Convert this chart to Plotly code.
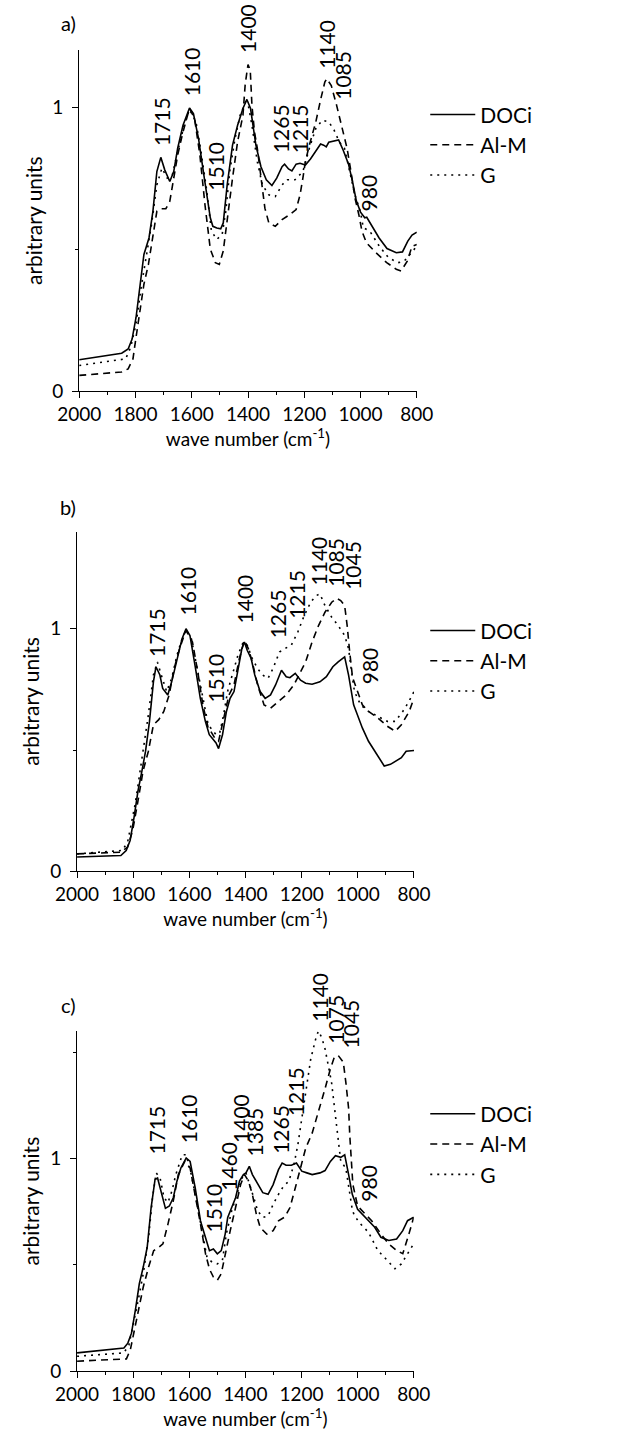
import plotly.graph_objects as go

# ---------------- data (wave number, arbitrary units) ----------------
# panel a
a_doci_wn = [2000, 1849, 1826, 1812, 1798, 1784, 1770, 1752, 1738, 1724, 1710, 1696, 1678, 1664, 1650, 1631, 1608, 1594, 1576, 1557, 1548, 1534, 1525, 1511, 1497, 1488, 1474, 1455, 1437, 1418, 1404, 1391, 1372, 1354, 1335, 1315, 1298, 1279, 1270, 1256, 1244, 1229, 1215, 1196, 1178, 1159, 1142, 1131, 1122, 1113, 1094, 1078, 1062, 1043, 1029, 1015, 1000, 985, 978, 965, 934, 906, 873, 851, 832, 817, 800]
a_doci = [0.110, 0.133, 0.148, 0.183, 0.259, 0.376, 0.481, 0.539, 0.633, 0.773, 0.823, 0.779, 0.738, 0.773, 0.855, 0.936, 0.997, 0.977, 0.89, 0.761, 0.70, 0.61, 0.58, 0.574, 0.571, 0.592, 0.726, 0.866, 0.936, 0.995, 1.027, 0.995, 0.866, 0.79, 0.744, 0.724, 0.75, 0.79, 0.799, 0.782, 0.775, 0.799, 0.802, 0.796, 0.817, 0.843, 0.87, 0.866, 0.86, 0.876, 0.880, 0.884, 0.849, 0.80, 0.74, 0.67, 0.63, 0.61, 0.612, 0.59, 0.539, 0.502, 0.487, 0.49, 0.528, 0.549, 0.559]

a_alm_wn = [2000, 1849, 1826, 1809, 1798, 1784, 1770, 1754, 1738, 1724, 1710, 1692, 1678, 1667, 1650, 1631, 1608, 1590, 1571, 1553, 1534, 1516, 1502, 1488, 1474, 1455, 1437, 1418, 1410, 1400, 1392, 1386, 1377, 1367, 1358, 1349, 1340, 1326, 1303, 1279, 1252, 1229, 1215, 1205, 1196, 1182, 1159, 1141, 1127, 1120, 1104, 1085, 1067, 1048, 1034, 1020, 1006, 995, 979, 945, 907, 873, 856, 834, 817, 800]
a_alm = [0.055, 0.067, 0.078, 0.113, 0.189, 0.283, 0.376, 0.446, 0.539, 0.633, 0.642, 0.642, 0.668, 0.738, 0.831, 0.913, 0.995, 0.96, 0.831, 0.656, 0.50, 0.452, 0.446, 0.493, 0.609, 0.75, 0.878, 0.971, 1.08, 1.15, 1.13, 1.006, 0.913, 0.855, 0.785, 0.715, 0.644, 0.592, 0.580, 0.604, 0.621, 0.639, 0.691, 0.75, 0.808, 0.866, 0.948, 1.03, 1.088, 1.10, 1.076, 1.006, 0.936, 0.855, 0.773, 0.68, 0.621, 0.563, 0.522, 0.487, 0.452, 0.429, 0.423, 0.457, 0.51, 0.516]

a_g_wn = [2000, 1835, 1817, 1798, 1780, 1761, 1743, 1724, 1706, 1687, 1669, 1650, 1627, 1608, 1585, 1567, 1548, 1530, 1511, 1492, 1479, 1465, 1446, 1428, 1409, 1400, 1386, 1367, 1349, 1326, 1303, 1279, 1261, 1233, 1205, 1182, 1159, 1136, 1113, 1094, 1076, 1057, 1039, 1020, 1001, 990, 967, 934, 901, 867, 845, 823, 800]
a_g = [0.09, 0.113, 0.154, 0.236, 0.364, 0.481, 0.586, 0.726, 0.785, 0.75, 0.761, 0.843, 0.936, 0.992, 0.948, 0.843, 0.715, 0.563, 0.534, 0.551, 0.633, 0.773, 0.89, 0.971, 1.018, 1.012, 0.936, 0.808, 0.726, 0.691, 0.685, 0.726, 0.744, 0.744, 0.773, 0.855, 0.925, 0.954, 0.948, 0.919, 0.878, 0.855, 0.773, 0.691, 0.633, 0.575, 0.563, 0.511, 0.470, 0.452, 0.457, 0.481, 0.51]

# panel b
b_doci_wn = [2000, 1844, 1825, 1811, 1797, 1783, 1769, 1756, 1742, 1728, 1719, 1705, 1695, 1677, 1663, 1644, 1626, 1612, 1598, 1580, 1561, 1543, 1529, 1515, 1505, 1496, 1482, 1468, 1455, 1441, 1427, 1413, 1404, 1394, 1380, 1367, 1348, 1330, 1311, 1293, 1272, 1255, 1242, 1223, 1204, 1186, 1163, 1135, 1112, 1089, 1070, 1047, 1033, 1015, 1006, 984, 962, 940, 906, 884, 862, 845, 828, 800]
b_doci = [0.059, 0.065, 0.086, 0.127, 0.222, 0.331, 0.413, 0.495, 0.618, 0.781, 0.843, 0.809, 0.754, 0.727, 0.781, 0.877, 0.959, 1.0, 0.972, 0.85, 0.713, 0.618, 0.563, 0.543, 0.529, 0.506, 0.563, 0.659, 0.713, 0.741, 0.836, 0.918, 0.945, 0.911, 0.877, 0.809, 0.741, 0.713, 0.727, 0.768, 0.829, 0.802, 0.798, 0.816, 0.788, 0.775, 0.771, 0.781, 0.802, 0.843, 0.863, 0.884, 0.809, 0.686, 0.659, 0.591, 0.536, 0.495, 0.434, 0.441, 0.455, 0.468, 0.495, 0.498]

b_alm_wn = [2000, 1844, 1820, 1802, 1783, 1765, 1746, 1728, 1709, 1691, 1672, 1654, 1635, 1612, 1589, 1570, 1552, 1533, 1524, 1510, 1496, 1478, 1459, 1441, 1422, 1404, 1390, 1376, 1357, 1334, 1311, 1283, 1255, 1228, 1209, 1186, 1163, 1140, 1117, 1093, 1075, 1061, 1047, 1038, 1029, 1019, 1001, 984, 962, 929, 895, 867, 845, 817, 800]
b_alm = [0.072, 0.079, 0.10, 0.168, 0.29, 0.413, 0.495, 0.604, 0.625, 0.659, 0.727, 0.836, 0.918, 0.993, 0.945, 0.822, 0.686, 0.591, 0.577, 0.55, 0.536, 0.631, 0.727, 0.768, 0.877, 0.952, 0.918, 0.863, 0.768, 0.686, 0.672, 0.70, 0.727, 0.768, 0.809, 0.863, 0.945, 1.013, 1.068, 1.109, 1.125, 1.116, 1.095, 1.013, 0.904, 0.80, 0.741, 0.686, 0.659, 0.632, 0.598, 0.577, 0.604, 0.659, 0.714]

b_g_wn = [2000, 1839, 1820, 1806, 1793, 1779, 1765, 1746, 1728, 1714, 1700, 1681, 1663, 1644, 1626, 1612, 1593, 1575, 1556, 1533, 1524, 1505, 1492, 1478, 1464, 1445, 1427, 1408, 1394, 1376, 1357, 1339, 1320, 1302, 1279, 1260, 1237, 1214, 1191, 1168, 1149, 1135, 1117, 1093, 1070, 1047, 1033, 1024, 1012, 990, 962, 929, 895, 867, 840, 818, 800]
b_g = [0.072, 0.086, 0.12, 0.195, 0.277, 0.386, 0.495, 0.645, 0.809, 0.863, 0.809, 0.741, 0.795, 0.891, 0.959, 0.993, 0.959, 0.85, 0.741, 0.604, 0.591, 0.563, 0.57, 0.645, 0.741, 0.822, 0.891, 0.945, 0.932, 0.877, 0.836, 0.809, 0.795, 0.836, 0.904, 0.918, 0.932, 0.986, 1.054, 1.109, 1.136, 1.143, 1.095, 1.047, 1.013, 0.972, 0.918, 0.836, 0.741, 0.686, 0.659, 0.639, 0.618, 0.618, 0.659, 0.700, 0.741]

# panel c
c_doci_wn = [2000, 1833, 1819, 1806, 1792, 1778, 1764, 1750, 1736, 1722, 1713, 1699, 1685, 1671, 1657, 1644, 1630, 1611, 1597, 1579, 1560, 1546, 1528, 1514, 1500, 1486, 1472, 1463, 1449, 1435, 1421, 1407, 1398, 1386, 1375, 1356, 1338, 1319, 1301, 1282, 1269, 1255, 1236, 1218, 1199, 1181, 1162, 1134, 1116, 1097, 1079, 1060, 1046, 1032, 1019, 1000, 972, 939, 917, 889, 861, 839, 822, 800]
c_doci = [0.086, 0.109, 0.132, 0.179, 0.288, 0.412, 0.49, 0.583, 0.77, 0.902, 0.909, 0.832, 0.766, 0.777, 0.816, 0.894, 0.956, 1.003, 0.987, 0.863, 0.707, 0.645, 0.567, 0.575, 0.552, 0.567, 0.645, 0.723, 0.77, 0.816, 0.894, 0.925, 0.933, 0.964, 0.925, 0.878, 0.84, 0.832, 0.878, 0.948, 0.979, 0.969, 0.969, 0.979, 0.941, 0.933, 0.925, 0.933, 0.944, 0.987, 1.014, 1.006, 1.018, 0.925, 0.832, 0.762, 0.724, 0.677, 0.63, 0.615, 0.622, 0.661, 0.708, 0.724]

c_alm_wn = [2000, 1824, 1810, 1796, 1782, 1764, 1745, 1727, 1708, 1694, 1676, 1657, 1639, 1616, 1597, 1579, 1560, 1542, 1528, 1514, 1500, 1486, 1472, 1454, 1435, 1417, 1403, 1389, 1375, 1361, 1347, 1324, 1301, 1282, 1259, 1241, 1222, 1204, 1185, 1162, 1139, 1116, 1097, 1083, 1069, 1051, 1042, 1032, 1028, 1017, 1000, 983, 950, 917, 889, 861, 839, 817, 800]
c_alm = [0.047, 0.058, 0.101, 0.194, 0.288, 0.396, 0.49, 0.567, 0.583, 0.599, 0.692, 0.801, 0.925, 0.987, 0.956, 0.832, 0.692, 0.552, 0.48, 0.443, 0.428, 0.459, 0.552, 0.661, 0.77, 0.878, 0.925, 0.894, 0.832, 0.738, 0.676, 0.645, 0.661, 0.707, 0.726, 0.77, 0.863, 0.956, 1.049, 1.12, 1.22, 1.329, 1.423, 1.477, 1.485, 1.454, 1.36, 1.236, 1.112, 0.879, 0.777, 0.754, 0.708, 0.646, 0.599, 0.568, 0.553, 0.646, 0.724]

c_g_wn = [2000, 1833, 1815, 1801, 1782, 1764, 1745, 1731, 1718, 1704, 1690, 1676, 1662, 1648, 1634, 1625, 1611, 1593, 1574, 1556, 1537, 1519, 1500, 1482, 1468, 1449, 1431, 1412, 1398, 1384, 1370, 1356, 1338, 1319, 1301, 1282, 1264, 1245, 1227, 1213, 1199, 1185, 1167, 1150, 1140, 1128, 1116, 1093, 1079, 1070, 1060, 1042, 1028, 1019, 1011, 989, 961, 928, 894, 867, 844, 822, 800]
c_g = [0.07, 0.086, 0.124, 0.21, 0.334, 0.459, 0.63, 0.816, 0.933, 0.909, 0.816, 0.793, 0.847, 0.925, 0.987, 1.018, 1.018, 0.925, 0.801, 0.676, 0.536, 0.513, 0.505, 0.521, 0.645, 0.754, 0.832, 0.909, 0.933, 0.878, 0.816, 0.754, 0.723, 0.731, 0.785, 0.832, 0.871, 0.894, 0.972, 1.065, 1.189, 1.314, 1.469, 1.56, 1.60, 1.57, 1.516, 1.36, 1.205, 1.08, 0.987, 0.956, 0.847, 0.76, 0.73, 0.692, 0.653, 0.568, 0.521, 0.482, 0.505, 0.552, 0.6]

# peak labels: (wave number, value at the foot of the label, text)
a_peaks_wn = [1708, 1602, 1514, 1400, 1287, 1219, 1120, 1065, 970]
a_peaks_y = [0.855, 1.03, 0.70, 1.182, 0.832, 0.832, 1.129, 1.018, 0.627]
a_peaks_txt = ["1715", "1610", "1510", "1400", "1265", "1215", "1140", "1085", "980"]

b_peaks_wn = [1717, 1606, 1508, 1404, 1286, 1217, 1140, 1080, 1017, 960]
b_peaks_y = [0.875, 1.047, 0.686, 1.013, 0.952, 1.034, 1.17, 1.164, 1.15, 0.761]
b_peaks_txt = ["1715", "1610", "1510", "1400", "1265", "1215", "1140", "1085", "1045", "980"]

c_peaks_wn = [1716, 1605, 1512, 1463, 1417, 1366, 1273, 1222, 1137, 1082, 1026, 959]
c_peaks_y = [1.011, 1.065, 0.645, 0.84, 1.065, 1.003, 1.011, 1.19, 1.633, 1.532, 1.508, 0.786]
c_peaks_txt = ["1715", "1610", "1510", "1460", "1400", "1385", "1265", "1215", "1140", "1075", "1045", "980"]

series_names = ["DOCi", "Al-M", "G"]
panel_labels = ["a)", "b)", "c)"]
x_tickvals = [2000, 1800, 1600, 1400, 1200, 1000, 800]
y_tickvals = [0, 1]
y_max = [1.2, 1.4, 1.6]

# ---------------- figure ----------------
W, H = 627, 1447
FONT = "Lato"
fig = go.Figure()

dashes = ["solid", "7px,5px", "2px,5px"]
panels = [
    [(a_doci_wn, a_doci), (a_alm_wn, a_alm), (a_g_wn, a_g)],
    [(b_doci_wn, b_doci), (b_alm_wn, b_alm), (b_g_wn, b_g)],
    [(c_doci_wn, c_doci), (c_alm_wn, c_alm), (c_g_wn, c_g)],
]
legend_ids = ["legend", "legend2", "legend3"]
for p, series in enumerate(panels):
    xa = "x" if p == 0 else f"x{p+1}"
    ya = "y" if p == 0 else f"y{p+1}"
    for s, (wn, val) in enumerate(series):
        fig.add_trace(go.Scatter(
            x=wn, y=val, mode="lines", name=series_names[s],
            line=dict(color="black", width=1.6, dash=dashes[s]),
            xaxis=xa, yaxis=ya, legend=legend_ids[p], showlegend=True))

# pixel geometry of each panel: (left, right, top, bottom)
geom = [(61.0, 421.0, 50.7, 394.0), (58.7, 418.0, 535.7, 878.0), (58.7, 417.7, 1039.0, 1381.7)]

axis_common = dict(showgrid=False, zeroline=False, showline=True, linecolor="black",
                   linewidth=1, ticks="outside", tickcolor="black", tickwidth=1,
                   tickfont=dict(family=FONT, size=19, color="black"))
layout = {}
for p, (l, r, t, b) in enumerate(geom):
    xk = "xaxis" if p == 0 else f"xaxis{p+1}"
    yk = "yaxis" if p == 0 else f"yaxis{p+1}"
    xa = "x" if p == 0 else f"x{p+1}"
    ya = "y" if p == 0 else f"y{p+1}"
    layout[xk] = dict(axis_common, domain=[l / W, r / W], range=[2000, 800], anchor=ya,
                      tickmode="array", tickvals=x_tickvals, ticklen=6,
                      minor=dict(ticks="outside", ticklen=3, dtick=100, tick0=2000,
                                 tickcolor="black", tickwidth=1, showgrid=False),
                      title=dict(text="wave number (cm<sup>-1</sup>)",
                                 font=dict(family=FONT, size=19, color="black"), standoff=8))
    layout[yk] = dict(axis_common, domain=[1 - b / H, 1 - t / H], range=[0, y_max[p]], anchor=xa,
                      tickmode="array", tickvals=y_tickvals, ticklen=6, ticklabelstandoff=5,
                      minor=dict(ticks="outside", ticklen=3, dtick=0.5, tick0=0,
                                 tickcolor="black", tickwidth=1, showgrid=False),
                      title=dict(text="arbitrary units",
                                 font=dict(family=FONT, size=21, color="black"), standoff=4))

legend_tops = [95, 615, 1102]
for p, lid in enumerate(legend_ids):
    layout[lid] = dict(x=430 / W, y=1 - legend_tops[p] / H, xanchor="left", yanchor="top",
                       font=dict(family=FONT, size=21, color="black"),
                       bgcolor="rgba(0,0,0,0)", itemwidth=45)

annotations = []
peak_sets = [(a_peaks_wn, a_peaks_y, a_peaks_txt), (b_peaks_wn, b_peaks_y, b_peaks_txt),
             (c_peaks_wn, c_peaks_y, c_peaks_txt)]
for p, (pw, py, pt) in enumerate(peak_sets):
    xa = "x" if p == 0 else f"x{p+1}"
    ya = "y" if p == 0 else f"y{p+1}"
    l, r, t, b = geom[p]
    px_per_unit = (b - t) / y_max[p]
    for wv, yv, tx in zip(pw, py, pt):
        # labels whose foot lies above the axis top are anchored inside the range and shifted up
        y_anchor = min(yv, y_max[p] * 0.99)
        yshift = (yv - y_anchor) * px_per_unit
        annotations.append(dict(x=wv, y=y_anchor, xref=xa, yref=ya, text=tx, showarrow=False,
                                textangle=-90, xanchor="center", yanchor="bottom",
                                yshift=yshift,
                                font=dict(family=FONT, size=21, color="black")))

label_pos = [(50, 23), (49, 511), (50, 1013)]
for p, (lx, ly) in enumerate(label_pos):
    annotations.append(dict(x=lx / W, y=1 - ly / H, xref="paper", yref="paper",
                            text=panel_labels[p], showarrow=False, xanchor="center",
                            yanchor="middle", font=dict(family=FONT, size=20, color="black")))

fig.update_layout(width=W, height=H, margin=dict(l=0, r=0, t=0, b=0),
                  plot_bgcolor="white", paper_bgcolor="white",
                  font=dict(family=FONT, color="black"),
                  annotations=annotations, **layout)

fig.write_html("out.html")
